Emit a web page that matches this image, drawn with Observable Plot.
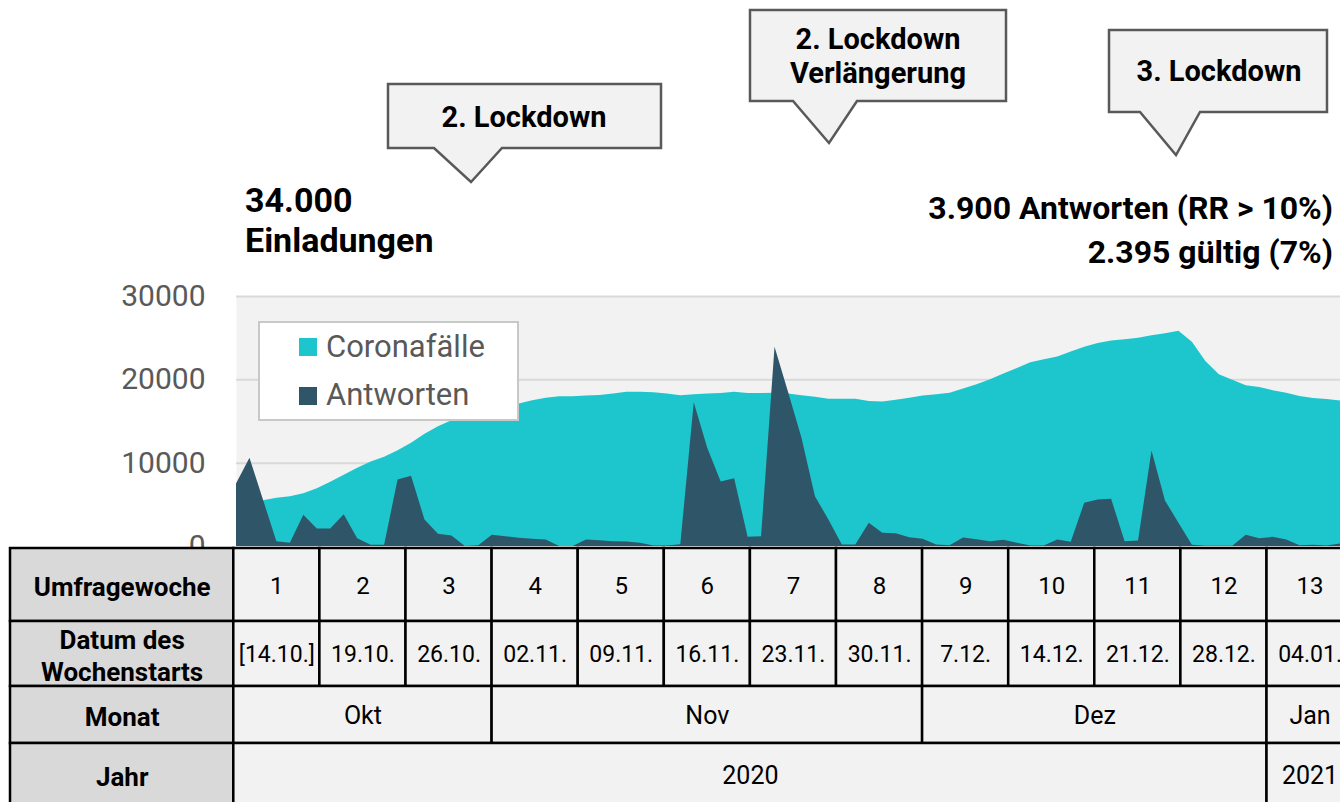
<!DOCTYPE html>
<html><head><meta charset="utf-8">
<script src="https://cdn.jsdelivr.net/npm/d3@7"></script>
<script src="https://cdn.jsdelivr.net/npm/@observablehq/plot@0.6"></script>
<style>
body{margin:0;background:#fff;}
#wrap{position:relative;width:1340px;height:802px;overflow:hidden;font-family:Roboto,sans-serif;}
#wrap > *{position:absolute;left:0;}
</style></head><body><div id="wrap"></div>
<script>
// ---------- data ----------
const startDate = "2020-10-14";
const endDate = "2021-01-04";
const coronaFaelle = [5100,5300,5500,5780,5980,6340,6940,7700,8540,9380,
  10140,10700,11500,12380,13460,14380,15100,15700,16250,16650,
  16900,17100,17500,17800,17980,17980,18050,18130,18300,18500,
  18500,18450,18300,18100,18200,18300,18350,18500,18350,18350,
  18380,18300,18100,17900,17660,17660,17660,17400,17340,17550,
  17780,18050,18200,18380,18900,19400,20000,20700,21350,22060,
  22400,22750,23350,23900,24350,24650,24820,25000,25280,25540,
  25820,24500,22200,20600,19950,19300,19080,18700,18400,18000,
  17750,17650,17460];
const antworten = [7500,10580,5580,580,380,3740,2100,2100,3820,940,
  140,140,7980,8420,3180,1460,1260,0,100,1340,
  1180,980,860,780,0,0,780,700,580,540,
  380,60,60,220,17260,11780,7740,8140,1100,1180,
  23900,18500,12980,5980,3180,180,180,2780,1580,1540,
  1060,860,180,100,1020,820,580,740,380,60,
  60,780,500,5180,5580,5660,580,660,11460,5460,
  2780,140,20,20,20,1340,940,1100,780,100,
  140,60,300];
const yTicks = [0,10000,20000,30000];
const seriesNames = ["Coronafälle","Antworten"];
const seriesColors = ["#1dc6cc","#2e5668"];

const rowLabels = ["Umfragewoche","Datum des\nWochenstarts","Monat","Jahr"];
const weeks = ["1","2","3","4","5","6","7","8","9","10","11","12","13"];
const weekStarts = ["[14.10.]","19.10.","26.10.","02.11.","09.11.","16.11.","23.11.","30.11.","7.12.","14.12.","21.12.","28.12.","04.01."];
const monthLabels = ["Okt","Nov","Dez","Jan"];
const monthWeekSpans = [3,5,4,1];
const yearLabels = ["2020","2021"];
const yearWeekSpans = [12,1];

const headline = ["34.000","Einladungen"];
const summary = ["3.900 Antworten (RR > 10%)","2.395 gültig (7%)"];
const callouts = [["2. Lockdown"],["2. Lockdown","Verlängerung"],["3. Lockdown"]];

// ---------- layout ----------
const W = 1340, H = 802;
const wrap = document.getElementById("wrap");

const dates = d3.utcDays(new Date(startDate), d3.utcDay.offset(new Date(endDate), 1));
const rows = dates.map((d, i) => ({date: d, corona: coronaFaelle[i], antworten: antworten[i]}));

const chart = Plot.plot({
  width: W, height: 562,
  marginLeft: 236, marginRight: 0, marginTop: 296, marginBottom: 16,
  style: {background: "transparent", fontFamily: "Roboto", overflow: "visible"},
  x: {type: "utc", domain: [dates[0], dates[dates.length - 1]], axis: null},
  y: {domain: [0, 30000], axis: null},
  marks: [
    Plot.frame({fill: "#f2f2f2", stroke: "none"}),
    Plot.gridY(yTicks.slice(1), {stroke: "#d9d9d9", strokeOpacity: 1, strokeWidth: 2}),
    Plot.areaY(rows, {x: "date", y: "corona", fill: seriesColors[0]}),
    Plot.areaY(rows, {x: "date", y: "antworten", fill: seriesColors[1]}),
    Plot.axisY({ticks: yTicks, tickSize: 0, tickPadding: 31, fontSize: 30, fill: "#595959", tickFormat: d => String(d)})
  ]
});
chart.style.top = "0px";
wrap.appendChild(chart);

// ---------- overlay: texts, callouts, legend ----------
const svg = d3.create("svg").attr("width", W).attr("height", 560)
  .style("top", "0px").style("font-family", "Roboto");

// headline left
const hl = svg.append("text").attr("font-size", 34).attr("font-weight", "bold").attr("fill", "#000");
headline.forEach((t, i) => hl.append("tspan").attr("x", 245).attr("y", 212 + i * 40).text(t));
// summary right
const sm = svg.append("text").attr("font-size", 32).attr("font-weight", "bold").attr("fill", "#000").attr("text-anchor", "end");
summary.forEach((t, i) => sm.append("tspan").attr("x", 1333).attr("y", 219 + i * 44).text(t));

// callouts
const boxes = [
  {x0: 388, x1: 661, y0: 84, y1: 148, pl: 434, tip: [471, 182], pr: 502, tx: 524, ty: [127]},
  {x0: 750, x1: 1006, y0: 10, y1: 101, pl: 793, tip: [829, 143], pr: 857, tx: 878, ty: [49, 83]},
  {x0: 1109, x1: 1327, y0: 30, y1: 112, pl: 1140, tip: [1176, 155], pr: 1200, tx: 1219, ty: [81]}
];
boxes.forEach((b, i) => {
  svg.append("path")
    .attr("d", `M${b.x0},${b.y0}H${b.x1}V${b.y1}H${b.pr}L${b.tip[0]},${b.tip[1]}L${b.pl},${b.y1}H${b.x0}Z`)
    .attr("fill", "#f2f2f2").attr("stroke", "#595959").attr("stroke-width", 2.5);
  const t = svg.append("text").attr("font-size", 29).attr("font-weight", "bold")
    .attr("text-anchor", "middle").attr("fill", "#000");
  callouts[i].forEach((line, j) => t.append("tspan").attr("x", b.tx).attr("y", b.ty[j]).text(line));
});

// legend
svg.append("rect").attr("x", 259).attr("y", 322).attr("width", 259).attr("height", 98)
  .attr("fill", "#fff").attr("stroke", "#c8c8c8").attr("stroke-width", 2);
seriesNames.forEach((n, i) => {
  svg.append("rect").attr("x", 299).attr("y", 338 + i * 49).attr("width", 18).attr("height", 18).attr("fill", seriesColors[i]);
  svg.append("text").attr("x", 326).attr("y", 357 + i * 48).attr("font-size", 31).attr("fill", "#595959").text(n);
});
wrap.appendChild(svg.node());

// ---------- table ----------
const hdrW = (233.3 - 10) / 86.1;
const rowEdges = [548, 621, 686, 743, 806];
const cells = [];
rowLabels.forEach((t, r) => cells.push({x1: -hdrW, x2: 0, y1: rowEdges[r], y2: rowEdges[r + 1], text: t, header: true}));
weeks.forEach((w, k) => cells.push({x1: k, x2: k + 1, y1: rowEdges[0], y2: rowEdges[1], text: w, size: 24}));
weekStarts.forEach((w, k) => cells.push({x1: k, x2: k + 1, y1: rowEdges[1], y2: rowEdges[2], text: w, size: 23}));
let c = 0;
monthLabels.forEach((m, i) => { cells.push({x1: c, x2: c + monthWeekSpans[i], y1: rowEdges[2], y2: rowEdges[3], text: m, size: 25}); c += monthWeekSpans[i]; });
c = 0;
yearLabels.forEach((m, i) => { cells.push({x1: c, x2: c + yearWeekSpans[i], y1: rowEdges[3], y2: rowEdges[4], text: m, size: 25}); c += yearWeekSpans[i]; });

const table = Plot.plot({
  width: W, height: 262, margin: 0,
  style: {background: "transparent", fontFamily: "Roboto"},
  x: {domain: [-hdrW, weeks.length], range: [10, 10 + (hdrW + weeks.length) * 86.1], axis: null},
  y: {domain: [540, 802], range: [0, 262], axis: null},
  marks: [
    Plot.rect(cells, {x1: "x1", x2: "x2", y1: "y1", y2: "y2", fill: d => d.header ? "#d9d9d9" : "#f2f2f2", stroke: "#000", strokeWidth: 2.5}),
    Plot.text(cells.filter(d => d.header), {x: d => (d.x1 + d.x2) / 2, y: d => (d.y1 + d.y2) / 2 + 1, text: "text", fontSize: 26, fontWeight: "bold", fill: "#000", lineHeight: 1.2}),
    Plot.text(cells.filter(d => !d.header), {x: d => (d.x1 + d.x2) / 2, y: d => (d.y1 + d.y2) / 2 + 1, text: "text", fontSize: d => d.size, fill: "#000"})
  ]
});
table.style.top = "540px";
wrap.appendChild(table);
</script></body></html>
